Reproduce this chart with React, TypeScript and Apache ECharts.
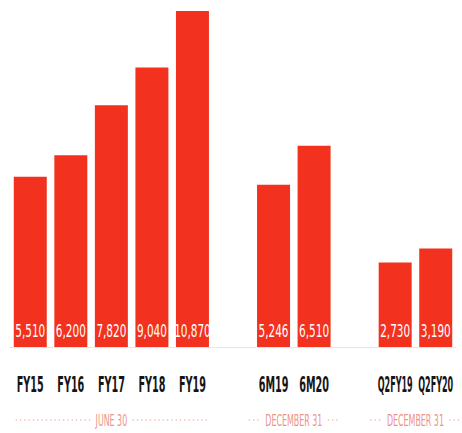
import React, { useEffect, useRef } from "react";
import * as echarts from "echarts";

const categories = ["FY15", "FY16", "FY17", "FY18", "FY19", "", "6M19", "6M20", "", "Q2FY19", "Q2FY20"];
const values: (number | null)[] = [5510, 6200, 7820, 9040, 10870, null, 5246, 6510, null, 2730, 3190];
const groupLabels = ["JUNE 30", "DECEMBER 31", "DECEMBER 31"];
const groupStart = [0, 6, 9];
const groupEnd = [4, 7, 10];

const BAR_COLOR = "#F2321E";
const GROUP_TEXT = "#EC948A";
const DOT_COLOR = "#F4B6AE";
const NARROW = '"Liberation Sans Narrow", "DejaVu Sans Condensed", sans-serif';

function measure(text: string, font: string): number {
  const c = document.createElement("canvas");
  const ctx = c.getContext("2d");
  if (!ctx) return text.length * 6;
  ctx.font = font;
  return ctx.measureText(text).width;
}

const fmt = (v: number) => v.toLocaleString("en-US");

export default function App() {
  const ref = useRef<HTMLDivElement>(null);
  useEffect(() => {
    if (!ref.current) return;
    const chart = echarts.init(ref.current, undefined, { renderer: "svg" });
    chart.setOption({
      animation: false,
      backgroundColor: "#ffffff",
      grid: { left: 10, right: 6, top: 11, bottom: 86 },
      xAxis: {
        type: "category",
        data: categories,
        axisTick: { show: false },
        axisLabel: { show: false },
        axisLine: { show: true, lineStyle: { color: "#E6E6E6", width: 1 } },
      },
      yAxis: {
        type: "value",
        show: false,
        min: 0,
        max: (v: any) => v.max,
        splitLine: { show: false },
      },
      series: [
        {
          type: "bar",
          data: values,
          barWidth: 33,
          itemStyle: { color: BAR_COLOR },
          label: { show: false },
        },
      ],
    });

    const base = chart.convertToPixel({ gridIndex: 0 }, [0, 0]) as number[];
    const bottomY = base[1];
    const xOf = (i: number) => (chart.convertToPixel({ seriesIndex: 0 }, [i, 0]) as number[])[0];

    const graphics: any[] = [];

    // value labels inside the bars
    const valFont = 16;
    const valScaleX = 30 / measure(fmt(5510), `${valFont}px ${NARROW}`);
    values.forEach((v, i) => {
      if (v == null) return;
      graphics.push({
        type: "text",
        x: xOf(i),
        y: bottomY - 16,
        scaleX: valScaleX,
        scaleY: 1.1,
        silent: true,
        z: 10,
        style: {
          text: fmt(v),
          fill: "#ffffff",
          fontFamily: NARROW,
          fontSize: valFont,
          align: "center",
          verticalAlign: "middle",
          textAlign: "center",
          textVerticalAlign: "middle",
        },
      });
    });

    // category labels
    const catFont = 15;
    const catFontStr = `bold ${catFont}px ${NARROW}`;
    const catScaleX = 27 / measure("FY15", catFontStr);
    categories.forEach((c, i) => {
      if (!c) return;
      const sx = Math.min(catScaleX, 35 / measure(c, catFontStr));
      graphics.push({
        type: "text",
        x: xOf(i),
        y: bottomY + 38,
        scaleX: sx,
        scaleY: 1.4,
        silent: true,
        style: {
          text: c,
          fill: "#151515",
          fontFamily: NARROW,
          fontSize: catFont,
          fontWeight: "bold",
          align: "center",
          verticalAlign: "middle",
          textAlign: "center",
          textVerticalAlign: "middle",
        },
      });
    });

    // group labels with dotted rules
    const gFontSize = 11;
    const gScaleX = 57 / measure("DECEMBER 31", `${gFontSize}px ${NARROW}`);
    const gy = bottomY + 73;
    groupLabels.forEach((label, g) => {
      const x1 = xOf(groupStart[g]);
      const x2 = xOf(groupEnd[g]);
      const cx = (x1 + x2) / 2;
      const tw = measure(label, `${gFontSize}px ${NARROW}`) * gScaleX;
      const half = Math.max((x2 - x1) / 2 + 14, tw / 2 + 16);
      graphics.push({
        type: "text",
        x: cx,
        y: gy,
        scaleX: gScaleX,
        scaleY: 1.4,
        silent: true,
        style: {
          text: label,
          fill: GROUP_TEXT,
          fontFamily: NARROW,
          fontSize: gFontSize,
          align: "center",
          verticalAlign: "middle",
          textAlign: "center",
          textVerticalAlign: "middle",
        },
      });
      const dotStyle = { stroke: DOT_COLOR, lineWidth: 1.6, lineDash: [0.1, 4.2], lineCap: "round" };
      graphics.push({
        type: "line",
        silent: true,
        shape: { x1: cx - half, y1: gy, x2: cx - tw / 2 - 6, y2: gy },
        style: dotStyle,
      });
      graphics.push({
        type: "line",
        silent: true,
        shape: { x1: cx + tw / 2 + 6, y1: gy, x2: cx + half, y2: gy },
        style: dotStyle,
      });
    });

    chart.setOption({ graphic: graphics });

    return () => chart.dispose();
  }, []);

  return (
    <div
      ref={ref}
      style={{ position: "fixed", left: 0, top: 0, width: 462, height: 433 }}
    />
  );
}
